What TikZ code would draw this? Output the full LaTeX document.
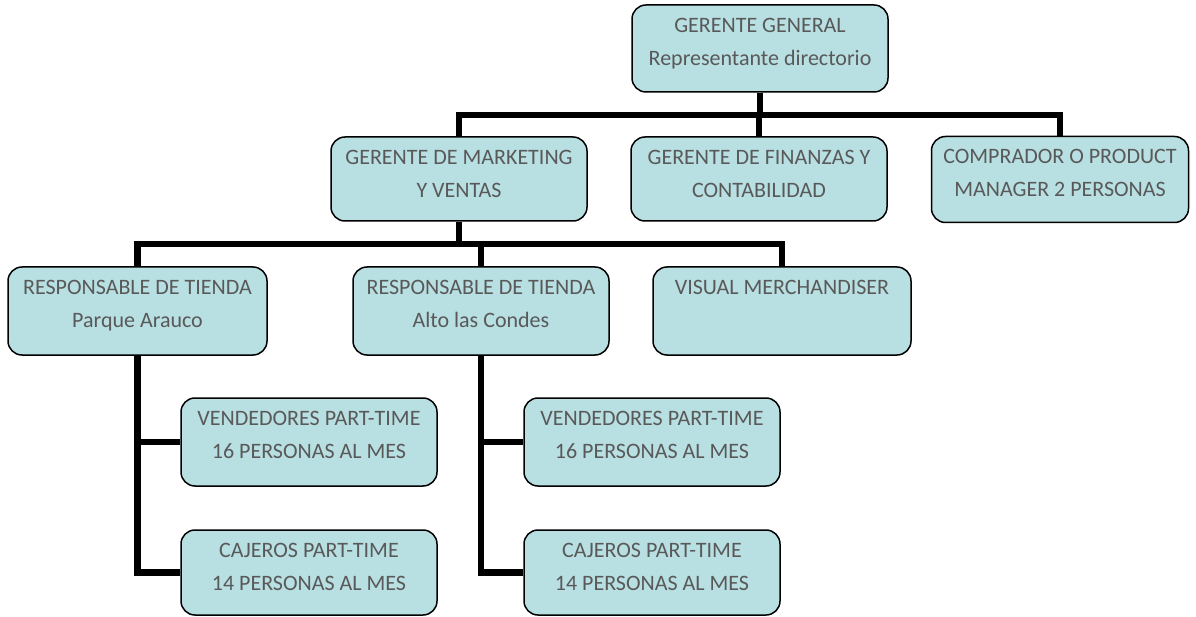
\documentclass[tikz,border=0pt]{standalone}
\usepackage{fontspec}
\setmainfont{Carlito}
\definecolor{boxfill}{HTML}{B8DFE2}
\definecolor{textgray}{HTML}{595959}
\newcommand{\boxtext}[3]{\parbox[c][#1pt][t]{#2pt}{\centering\rule{0pt}{27.5pt}#3}}
\begin{document}
\begin{tikzpicture}[x=1pt,y=-1pt,
  orgbox/.style={draw=black, fill=boxfill, rounded corners=14pt, line width=1.5pt, inner sep=0pt, text=textgray, font=\fontsize{22}{33}\selectfont},
  conn/.style={draw=black, line width=6.5pt, line join=miter}]
\path[use as bounding box] (0,0) rectangle (1196,617);
\node[orgbox] (gg) at (760,48.5) {\boxtext{87}{256}{GERENTE GENERAL\\Representante directorio}};
\node[orgbox] (mk) at (459,179) {\boxtext{84}{256}{GERENTE DE MARKETING\\Y VENTAS}};
\node[orgbox] (fin) at (759,179) {\boxtext{84}{256}{GERENTE DE FINANZAS Y\\CONTABILIDAD}};
\node[orgbox] (comp) at (1060,179.5) {\boxtext{86}{257}{COMPRADOR O PRODUCT\\MANAGER 2 PERSONAS}};
\node[orgbox] (r1) at (137.5,311) {\boxtext{88}{259}{RESPONSABLE DE TIENDA\\Parque Arauco}};
\node[orgbox] (r2) at (481,311) {\boxtext{88}{256}{RESPONSABLE DE TIENDA\\Alto las Condes}};
\node[orgbox] (vm) at (782,311) {\boxtext{88}{258}{VISUAL MERCHANDISER}};
\node[orgbox] (v1) at (309,442) {\boxtext{88}{256}{VENDEDORES PART-TIME\\16 PERSONAS AL MES}};
\node[orgbox] (c1) at (309,572.5) {\boxtext{85}{256}{CAJEROS PART-TIME\\14 PERSONAS AL MES}};
\node[orgbox] (v2) at (652,442) {\boxtext{88}{256}{VENDEDORES PART-TIME\\16 PERSONAS AL MES}};
\node[orgbox] (c2) at (652,572.5) {\boxtext{85}{256}{CAJEROS PART-TIME\\14 PERSONAS AL MES}};
\coordinate (bus1) at (0,115);
\coordinate (bus2) at (0,244);
\path[conn] (gg.south) -- (gg.south |- bus1);
\path[conn] (mk.north) -- (mk.north |- bus1) -- (comp.north |- bus1) -- (comp.north);
\path[conn] (fin.north) -- (fin.north |- bus1);
\path[conn] (mk.south) -- (mk.south |- bus2);
\path[conn] (r1.north) -- (r1.north |- bus2) -- (vm.north |- bus2) -- (vm.north);
\path[conn] (r2.north) -- (r2.north |- bus2);
\path[conn] (r1.south) |- (c1.west);
\path[conn] (v1.west) -- (v1.west -| r1.south);
\path[conn] (r2.south) |- (c2.west);
\path[conn] (v2.west) -- (v2.west -| r2.south);
\end{tikzpicture}
\end{document}
